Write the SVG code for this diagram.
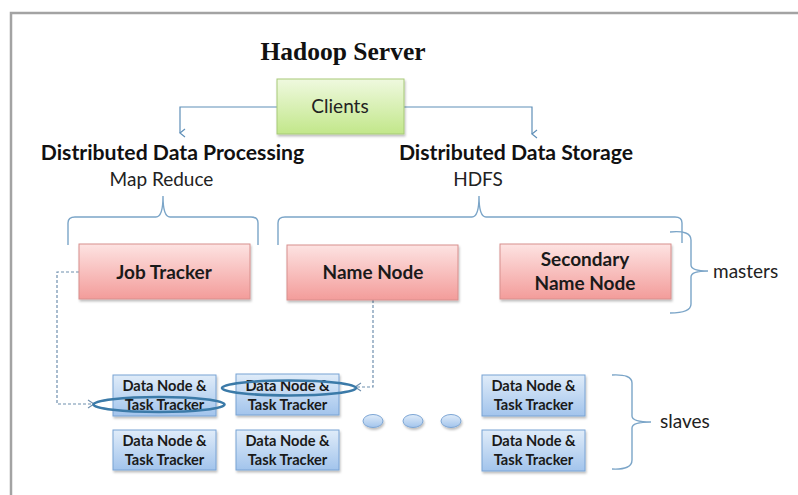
<svg xmlns="http://www.w3.org/2000/svg" width="798" height="495" viewBox="0 0 798 495">
  <style>
    .title { font-family: "Liberation Serif", "Times New Roman", serif; font-weight: bold; font-size: 25.5px; fill: #111; }
    .head { font-family: Lato, "Liberation Sans", sans-serif; font-weight: bold; font-size: 21.2px; fill: #111; }
    .sub { font-family: Lato, "Liberation Sans", sans-serif; font-size: 19px; fill: #222; }
    .lbl { font-family: Lato, "Liberation Sans", sans-serif; font-size: 19px; fill: #222; }
    .mlab { font-family: Lato, "Liberation Sans", sans-serif; font-weight: bold; font-size: 19px; fill: #1a1a1a; }
    .dlab { font-family: Lato, "Liberation Sans", sans-serif; font-weight: bold; font-size: 14.6px; fill: #1a1a1a; }
    .red { fill: url(#gRed); stroke: #d88f8d; stroke-width: 1; filter: url(#sh); }
    .green { fill: url(#gGreen); stroke: #a7c978; stroke-width: 1; filter: url(#sh); }
    .blue { fill: url(#gBlue); stroke: #78a3d4; stroke-width: 1; filter: url(#sh); }
    .dot { fill: url(#gBlue); stroke: #7ca5d4; stroke-width: 1; filter: url(#sh); }
    .brace { fill: none; stroke: #7ba5c8; stroke-width: 1.4; }
    .flow { fill: none; stroke: #5f8fb8; stroke-width: 1.2; }
    .dash { fill: none; stroke: #6f8fae; stroke-width: 1.2; stroke-dasharray: 3 2; }
    .hl { fill: none; stroke: #3b7aa8; stroke-width: 2.6; }
  </style>
  <defs>
    <linearGradient id="gRed" x1="0" y1="0" x2="0" y2="1">
      <stop offset="0" stop-color="#fde3e2"/>
      <stop offset="1" stop-color="#f39c9a"/>
    </linearGradient>
    <linearGradient id="gGreen" x1="0" y1="0" x2="0" y2="1">
      <stop offset="0" stop-color="#eff9df"/>
      <stop offset="1" stop-color="#c2e78a"/>
    </linearGradient>
    <linearGradient id="gBlue" x1="0" y1="0" x2="0" y2="1">
      <stop offset="0" stop-color="#e0ecf9"/>
      <stop offset="1" stop-color="#a2c4ec"/>
    </linearGradient>
    <filter id="sh" x="-10%" y="-10%" width="130%" height="140%">
      <feDropShadow dx="1" dy="2" stdDeviation="1" flood-color="#000" flood-opacity="0.25"/>
    </filter>
    <marker id="arrDown" markerWidth="10" markerHeight="10" refX="5" refY="8" orient="auto-start-reverse" markerUnits="userSpaceOnUse">
      <polyline points="1,3 5,8 9,3" fill="none" stroke="#5f8fb8" stroke-width="1.2"/>
    </marker>
    <marker id="arrOpen" markerWidth="10" markerHeight="10" refX="8" refY="5" orient="auto" markerUnits="userSpaceOnUse">
      <polyline points="2,1 8,5 2,9" fill="none" stroke="#6f8fae" stroke-width="1.1"/>
    </marker>
  </defs>

  <!-- frame -->
  <rect x="11" y="13" width="800" height="500" fill="#fff" stroke="#a3a3a3" stroke-width="2.5"/>

  <text class="title" x="343" y="60" text-anchor="middle">Hadoop Server</text>

  <!-- connectors -->
  <g id="connectors">
    <polyline class="flow" points="277,107 180,107 180,133" marker-end="url(#arrDown)"/>
    <polyline class="flow" points="404,107 532,107 532,134" marker-end="url(#arrDown)"/>
    <polyline class="dash" points="79,272 57,272 57,404 94,404" marker-end="url(#arrOpen)"/>
    <polyline class="dash" points="373,300 373,387 355,387" marker-end="url(#arrOpen)"/>
  </g>

  <!-- section headings and braces -->
  <g id="processing">
    <text class="head" x="172.5" y="159.5" text-anchor="middle">Distributed Data Processing</text>
    <text class="sub" x="161.5" y="186" text-anchor="middle">Map Reduce</text>
    <path class="brace" d="M68,245 L68,223 Q68,217 75,217 L156,217 Q163,217 163,196 Q163,217 170,217 L251,217 Q258,217 258,223 L258,245"/>
  </g>
  <g id="storage">
    <text class="head" x="516" y="159.5" text-anchor="middle">Distributed Data Storage</text>
    <text class="sub" x="478" y="186" text-anchor="middle">HDFS</text>
    <path class="brace" d="M278,245 L278,223 Q278,217 285,217 L472,217 Q479,217 479,196 Q479,217 486,217 L675,217 Q682,217 682,223 L682,243"/>
  </g>

  <!-- group braces -->
  <g id="masters">
    <path class="brace" d="M670,232 Q691,230 691,240 L691,265 Q691,271 708,271 Q691,271 691,277 L691,304 Q691,313 670,313"/>
    <text class="lbl" x="713" y="278">masters</text>
  </g>
  <g id="slaves">
    <path class="brace" d="M612,375 Q632,374 632,383 L632,416 Q632,422 651,422 Q632,422 632,428 L632,460 Q632,470 612,469"/>
    <text class="lbl" x="660" y="427.5">slaves</text>
  </g>

  <!-- master nodes -->
  <g id="clients">
    <rect class="green" x="277" y="79" width="127" height="55"/>
    <text class="sub" x="340" y="113" text-anchor="middle">Clients</text>
  </g>
  <g id="job-tracker">
    <rect class="red" x="79" y="244" width="171" height="55"/>
    <text class="mlab" x="164" y="279" text-anchor="middle">Job Tracker</text>
  </g>
  <g id="name-node">
    <rect class="red" x="287" y="245" width="171" height="55"/>
    <text class="mlab" x="373" y="279" text-anchor="middle">Name Node</text>
  </g>
  <g id="secondary-name-node">
    <rect class="red" x="500" y="244" width="171" height="55"/>
    <text class="mlab" x="585" y="266" text-anchor="middle">Secondary</text>
    <text class="mlab" x="585" y="290" text-anchor="middle">Name Node</text>
  </g>

  <!-- slave nodes -->
  <g id="dn1">
    <rect class="blue" x="113" y="375" width="103" height="41"/>
    <text class="dlab" x="164.5" y="391" text-anchor="middle">Data Node &amp;</text>
    <text class="dlab" x="164.5" y="409.5" text-anchor="middle">Task Tracker</text>
  </g>
  <g id="dn2">
    <rect class="blue" x="236" y="374" width="103" height="41"/>
    <text class="dlab" x="287.5" y="391" text-anchor="middle">Data Node &amp;</text>
    <text class="dlab" x="287.5" y="409.5" text-anchor="middle">Task Tracker</text>
  </g>
  <g id="dn3">
    <rect class="blue" x="113" y="430" width="103" height="40"/>
    <text class="dlab" x="164.5" y="446" text-anchor="middle">Data Node &amp;</text>
    <text class="dlab" x="164.5" y="464.5" text-anchor="middle">Task Tracker</text>
  </g>
  <g id="dn4">
    <rect class="blue" x="236" y="430" width="103" height="40"/>
    <text class="dlab" x="287.5" y="446" text-anchor="middle">Data Node &amp;</text>
    <text class="dlab" x="287.5" y="464.5" text-anchor="middle">Task Tracker</text>
  </g>
  <g id="dn5">
    <rect class="blue" x="482" y="375" width="103" height="41"/>
    <text class="dlab" x="533.5" y="391" text-anchor="middle">Data Node &amp;</text>
    <text class="dlab" x="533.5" y="409.5" text-anchor="middle">Task Tracker</text>
  </g>
  <g id="dn6">
    <rect class="blue" x="482" y="430" width="103" height="41"/>
    <text class="dlab" x="533.5" y="446" text-anchor="middle">Data Node &amp;</text>
    <text class="dlab" x="533.5" y="464.5" text-anchor="middle">Task Tracker</text>
  </g>

  <!-- ellipsis dots -->
  <g id="more">
    <ellipse class="dot" cx="373" cy="421" rx="10" ry="6.5"/>
    <ellipse class="dot" cx="413" cy="421" rx="10" ry="6.5"/>
    <ellipse class="dot" cx="451" cy="421" rx="10" ry="6.5"/>
  </g>

  <!-- highlight rings -->
  <g id="highlights">
    <ellipse class="hl" cx="159" cy="404.5" rx="65.5" ry="7.5"/>
    <ellipse class="hl" cx="289" cy="388" rx="67" ry="7.5"/>
  </g>
</svg>
